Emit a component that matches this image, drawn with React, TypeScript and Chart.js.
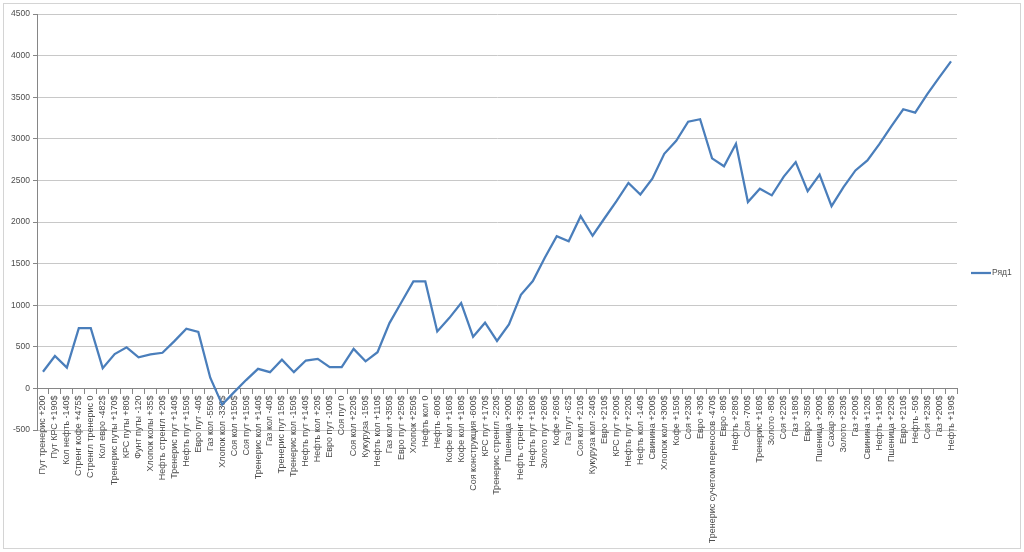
import { useEffect, useRef } from "react";
import { Chart, registerables } from "chart.js";

Chart.register(...registerables);

const categories: string[] = [
  "Пут тренерис +200",
  "Пут КРС +190$",
  "Кол нефть -140$",
  "Стренг кофе +475$",
  "Стренгл тренерис 0",
  "Кол евро -482$",
  "Тренерис путы +170$",
  "КРС путы +80$",
  "Фунт путы -120",
  "Хлопок колы +35$",
  "Нефть стренгл +20$",
  "Тренерис пут +140$",
  "Нефть пут +150$",
  "Евро пут -40$",
  "Газ кол -550$",
  "Хлопок кол -330$",
  "Соя кол +150$",
  "Соя пут +150$",
  "Тренерис кол +140$",
  "Газ кол -40$",
  "Тренерис пут 150$",
  "Тренерис кол -150$",
  "Нефть пут +140$",
  "Нефть кол +20$",
  "Евро пут -100$",
  "Соя пут 0",
  "Соя кол +220$",
  "Кукуруза -150$",
  "Нефть кол +110$",
  "Газ кол +350$",
  "Евро пут +250$",
  "Хлопок +250$",
  "Нефть кол 0",
  "Нефть -600$",
  "Кофе кол +160$",
  "Кофе кол +180$",
  "Соя конструкция -600$",
  "КРС пут +170$",
  "Тренерис стренгл -220$",
  "Пшеница +200$",
  "Нефть стренг +350$",
  "Нефть пут +180$",
  "Золото пут +260$",
  "Кофе +260$",
  "Газ пут -62$",
  "Соя кол +210$",
  "Кукуруза кол -240$",
  "Евро +210$",
  "КРС пут +200$",
  "Нефть пут +220$",
  "Нефть кол -140$",
  "Свинина +200$",
  "Хлопок кол +300$",
  "Кофе +150$",
  "Соя +230$",
  "Евро +30$",
  "Тренерис сучетом переносов -470$",
  "Евро -80$",
  "Нефть +280$",
  "Соя -700$",
  "Тренерис +160$",
  "Золото -80$",
  "Соя +220$",
  "Газ +180$",
  "Евро -350$",
  "Пшеница +200$",
  "Сахар -380$",
  "Золото +230$",
  "Газ +200$",
  "Свинина +120$",
  "Нефть +190$",
  "Пшеница +220$",
  "Евро +210$",
  "Нефть -50$",
  "Соя +230$",
  "Газ +200$",
  "Нефть +190$",
];

const series1: number[] = [
  200, 390, 250, 725, 725, 243, 413, 493, 373, 408,
  428, 568, 718, 678, 128, -195, -45, 100, 235, 195,
  345, 195, 335, 355, 255, 255, 475, 325, 435, 785,
  1035, 1285, 1285, 685, 845, 1025, 620, 790, 570, 770,
  1125, 1290, 1570, 1830, 1768, 2070, 1835, 2045, 2250, 2470,
  2330, 2520, 2820, 2975, 3205, 3235, 2765, 2670, 2940, 2240,
  2400, 2320, 2545, 2720, 2370, 2570, 2190, 2420, 2620, 2740,
  2935, 3150, 3355, 3315, 3535, 3735, 3930,
];

const seriesName = "Ряд1";
const yMin = -500;
const yMax = 4500;
const yStep = 500;

const FONT = "'Liberation Sans', Arial, sans-serif";
const LINE_COLOR = "#4a7ebb";
const TEXT_COLOR = "#4d4d4d";

export default function App() {
  const canvasRef = useRef<HTMLCanvasElement | null>(null);

  useEffect(() => {
    if (!canvasRef.current) return;

    const framePlugin = {
      id: "frame",
      beforeDraw(chart: any) {
        const { ctx, width, height } = chart;
        ctx.save();
        ctx.fillStyle = "#ffffff";
        ctx.fillRect(0, 0, width, height);
        ctx.strokeStyle = "#d4d4d4";
        ctx.lineWidth = 1;
        ctx.strokeRect(3.5, 3.5, width - 7, height - 7);
        ctx.restore();
      },
    };

    const legendPlugin = {
      id: "sideLegend",
      afterDraw(chart: any) {
        const { ctx, chartArea, height } = chart;
        const y = Math.round(height / 2) - 3;
        const x0 = chartArea.right + 14;
        ctx.save();
        ctx.strokeStyle = LINE_COLOR;
        ctx.lineWidth = 2.25;
        ctx.beginPath();
        ctx.moveTo(x0, y);
        ctx.lineTo(x0 + 20, y);
        ctx.stroke();
        ctx.fillStyle = TEXT_COLOR;
        ctx.font = `8.5px ${FONT}`;
        ctx.textAlign = "left";
        ctx.textBaseline = "middle";
        ctx.fillText(seriesName, x0 + 21, y);
        ctx.restore();
      },
    };

    const chart = new Chart(canvasRef.current, {
      type: "line",
      data: {
        labels: categories,
        datasets: [
          {
            label: seriesName,
            data: series1,
            borderColor: LINE_COLOR,
            backgroundColor: LINE_COLOR,
            borderWidth: 2.25,
            pointRadius: 0,
            pointHoverRadius: 0,
            tension: 0,
            fill: false,
          },
        ],
      },
      options: {
        responsive: false,
        animation: false,
        devicePixelRatio: 1,
        layout: { padding: { left: 0, top: 14, right: 67, bottom: 122 } },
        plugins: {
          legend: { display: false },
          tooltip: { enabled: false },
        },
        scales: {
          x: {
            type: "category",
            position: { y: 0 } as any,
            offset: true,
            grid: {
              display: true,
              drawOnChartArea: false,
              drawTicks: true,
              tickLength: 5,
              offset: true,
              tickColor: "#868686",
              color: "#868686",
            },
            border: { display: true, color: "#868686", width: 1 },
            ticks: {
              autoSkip: false,
              minRotation: 90,
              maxRotation: 90,
              padding: 2,
              color: TEXT_COLOR,
              font: { family: FONT, size: 9 },
            },
          },
          y: {
            type: "linear",
            min: yMin,
            max: yMax,
            afterFit: (scale: any) => {
              scale.width = 37;
            },
            grid: {
              color: "#c8c8c8",
              lineWidth: 1,
              drawTicks: true,
              tickLength: 4,
              tickColor: "#868686",
            },
            border: { display: true, color: "#868686", width: 1 },
            ticks: {
              stepSize: yStep,
              padding: 3,
              color: TEXT_COLOR,
              font: { family: FONT, size: 8.5 },
              callback: (value: any) => String(value),
            },
          },
        },
      },
      plugins: [framePlugin, legendPlugin],
    });

    return () => {
      chart.destroy();
    };
  }, []);

  return (
    <div
      style={{
        position: "fixed",
        left: 0,
        top: 0,
        width: 1024,
        height: 552,
        background: "#ffffff",
      }}
    >
      <canvas
        ref={canvasRef}
        width={1024}
        height={552}
        style={{ display: "block", width: 1024, height: 552 }}
      />
    </div>
  );
}
